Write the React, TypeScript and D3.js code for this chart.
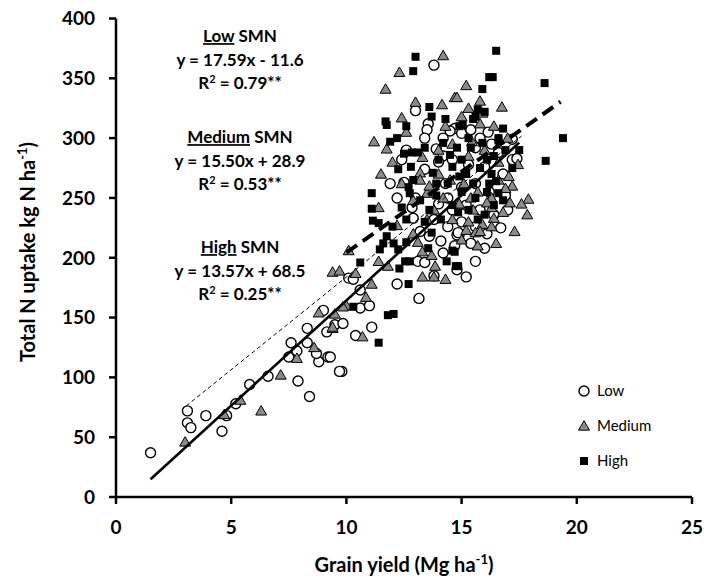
import React from 'react';
import * as d3 from 'd3';

// grain yield (Mg/ha), N uptake (kg N/ha)
const lowPoints: [number, number][] = [
  [1.5, 37], [3.1, 72], [3.1, 62], [3.25, 58], [3.9, 68], [4.6, 55], [4.8, 68], [5.2, 78],
  [5.8, 94], [6.6, 101], [7.9, 97], [8.4, 84], [7.5, 117], [7.6, 129], [7.85, 122], [8.3, 141],
  [8.3, 129], [8.8, 113], [9.2, 117], [8.7, 120], [9.0, 156], [9.15, 138], [9.5, 144], [9.85, 145],
  [9.8, 105], [9.3, 117], [9.7, 105], [10.4, 135], [11.1, 142], [10.6, 158], [10.1, 183], [12.2, 178],
  [13.8, 185], [13.15, 166], [13.1, 197], [13.4, 196], [14.2, 204], [14.8, 219], [13.2, 222], [12.85, 242],
  [12.5, 263], [13.4, 274], [14.2, 285], [12.4, 282], [14.7, 308], [13.55, 312], [13.5, 307], [13.4, 300],
  [13.0, 323], [13.8, 361], [15.6, 197], [15.2, 184], [17.2, 299], [17.2, 282], [15.0, 259], [14.85, 221],
  [15.3, 217], [16.15, 305],
  [14.2, 300], [14.5, 306], [15.0, 304], [15.4, 307], [15.8, 300], [16.3, 295], [16.6, 288], [14.0, 280],
  [14.6, 282], [15.3, 278], [16.0, 276], [16.8, 270], [14.3, 262], [15.6, 262], [16.2, 255], [16.9, 252],
  [14.0, 245], [14.6, 240], [15.2, 244], [15.8, 240], [16.4, 236], [13.8, 232], [14.4, 226], [15.0, 230],
  [15.6, 226], [16.1, 220], [14.1, 214], [14.7, 210], [15.4, 212], [16.0, 208], [13.6, 218], [12.9, 233],
  [12.2, 250], [11.9, 262], [13.0, 250], [14.8, 190], [16.7, 225], [17.0, 240], [17.4, 283], [12.6, 290],
  [13.9, 291], [15.6, 292], [14.4, 250], [10.3, 182], [10.6, 173], [11.0, 160],
];

const mediumPoints: [number, number][] = [
  [3.0, 46], [4.7, 69], [5.4, 81], [6.3, 72], [7.15, 102], [7.85, 116], [8.6, 125], [9.4, 141],
  [8.8, 154], [9.5, 153], [10.0, 160], [9.85, 159], [9.4, 142], [10.7, 134], [10.85, 167], [11.1, 178],
  [9.4, 188], [9.7, 189], [10.4, 187], [11.4, 197], [11.8, 193], [10.1, 206], [12.2, 227], [13.1, 213],
  [13.7, 202], [13.85, 193], [13.8, 184], [14.3, 182], [13.3, 184], [11.4, 242], [13.5, 254], [13.6, 260],
  [13.2, 271], [13.2, 265], [13.3, 284], [11.2, 297], [11.75, 291], [12.6, 305], [12.4, 317], [13.0, 330],
  [14.15, 328], [14.7, 334], [11.7, 341], [12.3, 355], [14.2, 369],
  [15.2, 344], [14.8, 334], [15.8, 331], [15.3, 325], [16.75, 326], [15.9, 321], [17.45, 278], [17.05, 268],
  [17.2, 260], [17.9, 249], [17.85, 236], [17.1, 246], [16.8, 238], [16.3, 242], [16.4, 233], [16.3, 226],
  [15.9, 228], [15.3, 230], [15.2, 223], [15.6, 221], [15.8, 222], [15.45, 297],
  [14.0, 270], [14.5, 265], [15.1, 262], [15.7, 255], [16.3, 250], [16.9, 258], [14.2, 250], [14.9, 245],
  [15.5, 240], [16.1, 246], [14.6, 232], [15.0, 215], [15.7, 210], [16.5, 212], [17.3, 222], [14.0, 290],
  [14.6, 295], [15.3, 285], [16.0, 290], [16.6, 280], [14.3, 310], [15.0, 318], [15.8, 312], [16.4, 310],
  [13.8, 240], [12.9, 248], [12.4, 262], [11.5, 270], [12.0, 280], [13.5, 232], [17.6, 245], [17.0, 300],
  [12.9, 220], [13.3, 205], [15.4, 250], [16.6, 265],
];

const highPoints: [number, number][] = [
  [10.3, 159], [11.8, 152], [12.05, 153], [11.4, 129], [12.7, 178], [10.6, 196], [12.3, 191], [12.75, 197],
  [12.55, 197], [14.6, 206], [14.35, 197], [14.75, 193], [13.55, 208], [13.4, 230], [13.7, 221], [12.6, 213],
  [11.45, 207], [11.6, 212], [12.05, 212], [12.25, 207], [11.75, 218], [11.15, 231], [11.4, 229], [11.1, 241],
  [11.1, 254], [12.7, 259], [12.75, 254], [13.75, 271], [12.8, 276], [12.25, 274], [12.5, 287], [12.85, 288],
  [13.1, 288], [11.9, 297], [12.6, 310], [11.7, 314], [11.75, 311], [14.3, 316], [13.7, 318], [13.6, 326],
  [12.9, 356], [13.0, 368],
  [16.2, 351], [16.35, 351], [18.6, 346], [15.9, 341], [19.4, 300], [18.65, 281], [17.5, 290], [15.7, 324],
  [15.6, 318], [15.05, 311], [16.6, 300], [14.85, 193], [14.7, 205], [16.5, 264], [16.1, 255], [16.6, 254],
  [14.85, 238], [16.5, 373],
  [14.2, 296], [14.8, 292], [15.3, 300], [15.9, 296], [16.4, 285], [16.9, 290], [14.0, 282], [14.6, 276],
  [15.2, 270], [15.8, 275], [16.3, 270], [14.4, 262], [15.0, 255], [15.6, 250], [16.2, 262], [16.8, 248],
  [13.9, 252], [14.6, 244], [15.3, 240], [16.0, 236], [13.6, 240], [14.1, 232], [13.2, 248], [12.4, 242],
  [12.9, 265], [14.9, 310], [15.5, 316], [16.0, 322], [16.8, 308], [13.4, 292], [12.2, 300], [15.0, 282],
  [16.6, 298], [17.2, 275], [12.0, 226], [12.6, 232],
  [14.9, 268], [15.5, 262], [16.1, 282], [15.4, 292], [14.5, 286], [16.4, 244], [15.7, 232], [13.9, 262],
];

// regression fits: [slope, intercept, xStart, xEnd]
const lowFit = [17.59, -11.6, 1.5, 17.5];
const mediumFit = [15.5, 28.9, 3.05, 17.6];
const highFit = [13.57, 68.5, 10.0, 19.3];

const xTicks = [0, 5, 10, 15, 20, 25];
const yTicks = [0, 50, 100, 150, 200, 250, 300, 350, 400];

const annotations = [
  { head: 'Low', eq: 'y = 17.59x - 11.6', r2: '0.79**', y: 36 },
  { head: 'Medium', eq: 'y = 15.50x + 28.9', r2: '0.53**', y: 137 },
  { head: 'High', eq: 'y = 13.57x + 68.5', r2: '0.25**', y: 247 },
];

const legendItems = ['Low', 'Medium', 'High'];

const font = 'Lato, "Open Sans", sans-serif';
const W = 707;
const H = 584;
const m = { left: 116, right: 15, top: 18.5, bottom: 87 };

const triPath = d3.symbol().type(d3.symbolTriangle).size(52)() as string;

const App = () => {
  const x = d3.scaleLinear().domain([0, 25]).range([m.left, W - m.right]);
  const y = d3.scaleLinear().domain([0, 400]).range([H - m.bottom, m.top]);

  const fitLine = (f: number[]) => {
    const pts: [number, number][] = [f[2], f[3]].map(v => [v, f[0] * v + f[1]]);
    return d3.line<[number, number]>().x(d => x(d[0])).y(d => y(d[1]))(pts) as string;
  };

  const circle = (cx: number, cy: number, k: string | number) => (
    <circle key={k} cx={cx} cy={cy} r={5} fill="#fff" stroke="#000" strokeWidth={1.4} />
  );
  const tri = (cx: number, cy: number, k: string | number) => (
    <path key={k} d={triPath} transform={`translate(${cx},${cy + 1})`} fill="#8a8a8a" stroke="#000" strokeWidth={1} />
  );
  const square = (cx: number, cy: number, k: string | number) => (
    <rect key={k} x={cx - 4} y={cy - 4} width={8} height={8} fill="#000" />
  );

  return (
    <svg width={W} height={H} style={{ position: 'absolute', left: 0, top: 0, background: '#fff' }}>
      <rect width={W} height={H} fill="#fff" />
      {lowPoints.map((d, i) => circle(x(d[0]), y(d[1]), 'l' + i))}
      {mediumPoints.map((d, i) => tri(x(d[0]), y(d[1]), 'm' + i))}
      {highPoints.map((d, i) => square(x(d[0]), y(d[1]), 'h' + i))}

      <path d={fitLine(mediumFit)} fill="none" stroke="#000" strokeWidth={1} strokeDasharray="4,3" />
      <path d={fitLine(lowFit)} fill="none" stroke="#000" strokeWidth={2.6} />
      <path d={fitLine(highFit)} fill="none" stroke="#000" strokeWidth={4} strokeDasharray="13,7" />

      {/* axes */}
      <line x1={x(0)} x2={x(25)} y1={y(0)} y2={y(0)} stroke="#000" strokeWidth={2.5} />
      <line x1={x(0)} x2={x(0)} y1={y(0)} y2={y(400)} stroke="#000" strokeWidth={2.5} />
      {yTicks.map(t => (
        <g key={'yt' + t}>
          <line x1={x(0) - 7} x2={x(0)} y1={y(t)} y2={y(t)} stroke="#000" strokeWidth={2.5} />
          <text x={x(0) - 21} y={y(t)} dy="0.36em" textAnchor="end" fontFamily={font} fontWeight={700} fontSize={19}>{t}</text>
        </g>
      ))}
      {xTicks.map(t => (
        <g key={'xt' + t}>
          <line x1={x(t)} x2={x(t)} y1={y(0)} y2={y(0) + 7} stroke="#000" strokeWidth={2.5} />
          <text x={x(t)} y={534} textAnchor="middle" fontFamily={font} fontWeight={700} fontSize={19}>{t}</text>
        </g>
      ))}

      <text x={404} y={572} textAnchor="middle" fontFamily={font} fontWeight={700} fontSize={20}>
        Grain yield (Mg ha<tspan dy={-8} fontSize={13}>-1</tspan><tspan dy={8}>)</tspan>
      </text>
      <text transform="translate(35,252) rotate(-90)" textAnchor="middle" fontFamily={font} fontWeight={700} fontSize={20}>
        Total N uptake kg N ha<tspan dy={-8} fontSize={13}>-1</tspan><tspan dy={8}>)</tspan>
      </text>

      {annotations.map(a => (
        <g key={a.head} fontFamily={font} fontWeight={700} fontSize={17} textAnchor="middle">
          <text x={240} y={a.y} dy="0.36em">
            <tspan textDecoration="underline">{a.head}</tspan> SMN
          </text>
          <text x={240} y={a.y + 24} dy="0.36em">{a.eq}</text>
          <text x={240} y={a.y + 47} dy="0.36em">
            R<tspan dy={-6} fontSize={11}>2</tspan><tspan dy={6}> = {a.r2}</tspan>
          </text>
        </g>
      ))}

      {/* legend */}
      {legendItems.map((lab, i) => {
        const ly = 391 + i * 35;
        const mark = i === 0 ? circle(584, ly, 'lg0') : i === 1 ? tri(584, ly, 'lg1') : square(584, ly, 'lg2');
        return (
          <g key={lab}>
            {mark}
            <text x={597} y={ly} dy="0.36em" fontFamily={font} fontSize={15}>{lab}</text>
          </g>
        );
      })}
    </svg>
  );
};

export default App;
